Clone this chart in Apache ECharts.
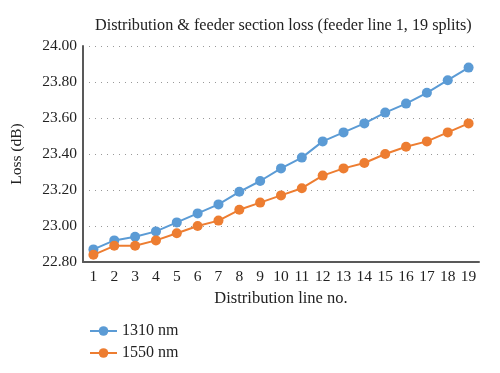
<!DOCTYPE html>
<html><head><meta charset="utf-8">
<script src="https://cdn.jsdelivr.net/npm/echarts@6/dist/echarts.min.js"></script>
<style>html,body{margin:0;padding:0;background:#fff}#c{width:500px;height:373px}</style>
</head><body><div id="c"></div>
<script>
const categories = ['1','2','3','4','5','6','7','8','9','10','11','12','13','14','15','16','17','18','19'];
const loss1310 = [22.87,22.92,22.94,22.97,23.02,23.07,23.12,23.19,23.25,23.32,23.38,23.47,23.52,23.57,23.63,23.68,23.74,23.81,23.88];
const loss1550 = [22.84,22.89,22.89,22.92,22.96,23.00,23.03,23.09,23.13,23.17,23.21,23.28,23.32,23.35,23.40,23.44,23.47,23.52,23.57];
const seriesNames = ['1310 nm','1550 nm'];
const font = 'Liberation Serif, DejaVu Serif, serif';
const chart = echarts.init(document.getElementById('c'));
chart.setOption({
  animation:false,
  textStyle:{fontFamily:font},
  title:{text:'Distribution & feeder section loss (feeder line 1, 19 splits)',left:90,top:13,
    textStyle:{fontFamily:font,fontSize:16.2,fontWeight:'normal',color:'#222'}},
  grid:{left:83,right:21,top:46,bottom:111},
  legend:{orient:'vertical',left:84,top:318,itemWidth:27,itemHeight:12,itemGap:6,
    textStyle:{fontFamily:font,fontSize:16,color:'#222'},data:seriesNames},
  xAxis:{type:'category',data:categories,boundaryGap:true,
    name:'Distribution line no.',nameLocation:'middle',nameGap:26,
    nameTextStyle:{fontFamily:font,fontSize:16.5,color:'#222'},
    axisLine:{lineStyle:{color:'#595959',width:2}},axisTick:{show:false},
    axisLabel:{fontFamily:font,fontSize:15.5,color:'#222',margin:7,interval:0}},
  yAxis:{type:'value',min:22.8,max:24.0,interval:0.2,
    name:'Loss (dB)',nameLocation:'middle',nameGap:58,nameRotate:90,
    nameTextStyle:{fontFamily:font,fontSize:15.5,color:'#222'},
    axisLine:{show:true,lineStyle:{color:'#595959',width:2}},axisTick:{show:false},
    axisLabel:{fontFamily:font,fontSize:15.5,color:'#222',margin:6,formatter:v=>v.toFixed(2)},
    splitLine:{lineStyle:{type:[1,5],color:'#999',width:1}}},
  series:[
    {name:seriesNames[0],type:'line',data:loss1310,symbol:'circle',symbolSize:10,
      lineStyle:{color:'#5B9BD5',width:2},itemStyle:{color:'#5B9BD5'}},
    {name:seriesNames[1],type:'line',data:loss1550,symbol:'circle',symbolSize:10,
      lineStyle:{color:'#ED7D31',width:2},itemStyle:{color:'#ED7D31'}}
  ]
});
</script></body></html>
